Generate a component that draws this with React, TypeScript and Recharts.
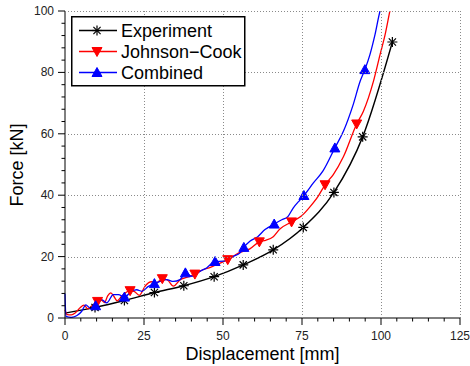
import { ComposedChart, Line, Scatter, XAxis, YAxis, Legend } from 'recharts'

// [displacement mm, force kN]
const experimentCurve = [
  [0, 1.6], [9.5, 3.45], [18.8, 5.7], [28.3, 8.3], [37.6, 10.5], [47.2, 13.45],
  [56.4, 17.3], [65.9, 22.2], [75.4, 29.5], [85.1, 40.9], [94.2, 59.0], [103.6, 89.9],
]
const experimentMarks = [
  [9.5, 3.45], [18.8, 5.7], [28.3, 8.3], [37.6, 10.5], [47.2, 13.45], [56.4, 17.3],
  [65.9, 22.2], [75.4, 29.5], [85.1, 40.9], [94.2, 59.0], [103.6, 89.9],
]

const johnsonCookCurve = [
  [0, 2.7], [0.7, 1.1], [2, 1.0], [3.2, 1.6], [4.7, 3.3], [6, 4.2], [7.2, 3.0], [8.5, 4.0],
  [10.3, 5.4], [11.5, 5.8], [12.5, 5.0], [13.5, 7.2], [14.5, 8.2], [15.5, 7.0], [16.5, 5.6],
  [18, 7.2], [20.6, 8.9], [22, 8.6], [23.5, 7.4], [25.5, 10.6], [27.3, 11.8], [29, 11.5],
  [30.8, 12.8], [32.5, 12.3], [34.3, 10.4], [36.4, 12.4], [38.5, 13.2], [41.1, 14.3],
  [43.8, 15.8], [46, 16.5], [48, 17.4], [51.5, 19.0], [55, 21.2], [58.5, 22.5], [61.5, 24.8],
  [63.5, 25.3], [65.9, 26.5], [68, 29.0], [71.7, 31.3], [74.9, 33.3], [77.5, 36.2],
  [80.2, 39.8], [82.3, 43.4], [84.9, 46.7], [88.1, 52.5], [92.3, 63.2], [94.4, 67.3],
  [97.6, 77.1], [99.7, 85.8], [101.3, 92.3], [102.8, 100], [103.2, 102],
]
const johnsonCookMarks = [
  [10.3, 5.4], [20.6, 8.9], [30.8, 12.8], [41.1, 14.3], [51.5, 19.0], [61.5, 24.8],
  [71.7, 31.3], [82.3, 43.4], [92.3, 63.2],
]

const combinedCurve = [
  [0, 8], [0.3, 0.5], [2, 0.2], [3.8, 0.8], [5.3, 2.2], [6.6, 4.3], [7.9, 3.3], [9.7, 4.0],
  [11.6, 6.0], [13.2, 4.9], [15.3, 7.6], [16.9, 7.6], [18.8, 6.8], [21.1, 8.7], [22.7, 9.2],
  [24.3, 8.7], [26.4, 10.3], [28.3, 11.2], [30.1, 11.9], [32.2, 12.5], [34.3, 11.9],
  [36.4, 12.5], [38.1, 14.7], [40.1, 13.6], [42.7, 15.2], [44.8, 16.3], [47.5, 18.4],
  [50.1, 18.5], [53.3, 20.1], [55.4, 21.2], [56.6, 23.0], [58.5, 25.0], [61, 26.5],
  [63.3, 28.8], [66.2, 30.6], [68.6, 32.0], [70.5, 33.0], [72.2, 35.8], [74.4, 38.5],
  [75.6, 39.9], [78.6, 44.0], [81.7, 48.0], [85.4, 55.4], [88.1, 60.8], [91.2, 69.5],
  [93.4, 77.1], [94.9, 80.9], [96.5, 85.8], [98.1, 92.3], [99.7, 100], [100, 101],
]
const combinedMarks = [
  [9.7, 4.0], [18.8, 6.8], [28.3, 11.2], [38.1, 14.7], [47.5, 18.4], [56.6, 23.0],
  [66.2, 30.6], [75.6, 39.9], [85.4, 55.4], [94.9, 80.9],
]

const xTicks = [0, 5, 10, 15, 20, 25, 30, 35, 40, 45, 50, 55, 60, 65, 70, 75, 80, 85, 90, 95, 100, 105, 110, 115, 120, 125]
const xMajor = [0, 25, 50, 75, 100, 125]
const yTicks = [0, 4, 8, 12, 16, 20, 24, 28, 32, 36, 40, 44, 48, 52, 56, 60, 64, 68, 72, 76, 80, 84, 88, 92, 96, 100]
const yMajor = [0, 20, 40, 60, 80, 100]

const FONT = '"Liberation Sans", Arial, sans-serif'
const W = 470
const H = 366
const M = { top: 11, right: 10, bottom: 18, left: 0 }
const X_AXIS_H = 30
const Y_AXIS_W = 65
const PLOT_W = W - M.left - M.right - Y_AXIS_W
const PLOT_H = H - M.top - M.bottom - X_AXIS_H
const GRID = '#8a8a8a'

const pts = (a: number[][]) => a.map(([x, y]) => ({ x, y }))

function XTick(props: any) {
  const { x, y, payload } = props
  const major = xMajor.includes(payload.value)
  return (
    <g>
      {major && payload.value !== 0 && (
        <line
          x1={Math.round(x) + 0.5}
          y1={y}
          x2={Math.round(x) + 0.5}
          y2={y - PLOT_H}
          stroke={GRID}
          strokeWidth={1}
          strokeDasharray="1 2"
          shapeRendering="crispEdges"
        />
      )}
      <line x1={x} y1={y} x2={x} y2={y + (major ? 7 : 3.5)} stroke="#000" strokeWidth={1} />
      {major && (
        <text x={x} y={y + 21.5} textAnchor="middle" fontSize={12} fontFamily={FONT} fill="#222">
          {payload.value}
        </text>
      )}
    </g>
  )
}

function YTick(props: any) {
  const { x, y, payload } = props
  const major = yMajor.includes(payload.value)
  return (
    <g>
      {major && payload.value !== 0 && (
        <line
          x1={x}
          y1={Math.round(y) + 0.5}
          x2={x + PLOT_W}
          y2={Math.round(y) + 0.5}
          stroke={GRID}
          strokeWidth={1}
          strokeDasharray="1 2"
          shapeRendering="crispEdges"
        />
      )}
      <line x1={x - (major ? 7 : 3.5)} y1={y} x2={x} y2={y} stroke="#000" strokeWidth={1} />
      {major && (
        <text x={x - 11} y={y + 4} textAnchor="end" fontSize={12} fontFamily={FONT} fill="#222">
          {payload.value}
        </text>
      )}
    </g>
  )
}

function Asterisk({ cx, cy, r = 5 }: any) {
  const d = r * 0.72
  return (
    <g stroke="#000" strokeWidth={1.2}>
      <line x1={cx - r} y1={cy} x2={cx + r} y2={cy} />
      <line x1={cx} y1={cy - r} x2={cx} y2={cy + r} />
      <line x1={cx - d} y1={cy - d} x2={cx + d} y2={cy + d} />
      <line x1={cx - d} y1={cy + d} x2={cx + d} y2={cy - d} />
    </g>
  )
}

function TriDown({ cx, cy }: any) {
  return <path d={`M${cx - 5},${cy - 4} L${cx + 5},${cy - 4} L${cx},${cy + 5} Z`} fill="#f00" stroke="#f00" />
}

function TriUp({ cx, cy }: any) {
  return <path d={`M${cx - 5},${cy + 4} L${cx + 5},${cy + 4} L${cx},${cy - 5} Z`} fill="#00f" stroke="#00f" />
}

const legendRows = [
  { name: 'Experiment', color: '#000', Mark: Asterisk },
  { name: 'Johnson\u2212Cook', color: '#f00', Mark: TriDown },
  { name: 'Combined', color: '#00f', Mark: TriUp },
]

function LegendBox() {
  return (
    <svg width={175} height={71} style={{ display: 'block' }}>
      <rect x={0.75} y={0.75} width={173} height={69} fill="#fff" stroke="#000" strokeWidth={1.5} />
      {legendRows.map((r, i) => {
        const cy = 14.5 + i * 21
        return (
          <g key={r.name}>
            <line x1={8} y1={cy} x2={46} y2={cy} stroke={r.color} strokeWidth={1.3} />
            <r.Mark cx={26} cy={cy} />
            <text x={50} y={cy + 6.5} fontSize={18} fontFamily={FONT} fill="#000">
              {r.name}
            </text>
          </g>
        )
      })}
    </svg>
  )
}

export default function App() {
  return (
    <div style={{ position: 'absolute', left: 0, top: 0 }}>
      <ComposedChart width={W} height={H} margin={M}>
        <XAxis
          type="number"
          dataKey="x"
          domain={[0, 125]}
          ticks={xTicks}
          interval={0}
          height={X_AXIS_H}
          tickSize={0}
          tickMargin={0}
          tickLine={false}
          tick={XTick}
          axisLine={{ stroke: '#000', strokeWidth: 1 }}
          label={{
            content: () => (
              <text x={262.5} y={360} textAnchor="middle" fontSize={18} fontFamily={FONT} fill="#000">
                Displacement [mm]
              </text>
            ),
          }}
        />
        <YAxis
          type="number"
          domain={[0, 100]}
          ticks={yTicks}
          interval={0}
          width={Y_AXIS_W}
          tickSize={0}
          tickMargin={0}
          tickLine={false}
          tick={YTick}
          allowDataOverflow
          axisLine={{ stroke: '#000', strokeWidth: 1 }}
          label={{
            content: () => (
              <text x={23} y={165} transform="rotate(-90 23 165)" textAnchor="middle" fontSize={18} fontFamily={FONT} fill="#000">
                Force [kN]
              </text>
            ),
          }}
        />
        <Line data={pts(experimentCurve)} dataKey="y" type="monotone" stroke="#000" strokeWidth={1.4} dot={false} isAnimationActive={false} />
        <Line data={pts(johnsonCookCurve)} dataKey="y" type="monotone" stroke="#f00" strokeWidth={1.3} dot={false} isAnimationActive={false} />
        <Line data={pts(combinedCurve)} dataKey="y" type="monotone" stroke="#00f" strokeWidth={1.3} dot={false} isAnimationActive={false} />
        <Scatter data={pts(experimentMarks)} dataKey="y" shape={(p: any) => <Asterisk cx={p.cx} cy={p.cy} />} isAnimationActive={false} />
        <Scatter data={pts(johnsonCookMarks)} dataKey="y" shape={(p: any) => <TriDown cx={p.cx} cy={p.cy} />} isAnimationActive={false} />
        <Scatter data={pts(combinedMarks)} dataKey="y" shape={(p: any) => <TriUp cx={p.cx} cy={p.cy} />} isAnimationActive={false} />
        <Legend
          layout="vertical"
          align="center"
          verticalAlign="middle"
          content={() => <LegendBox />}
          wrapperStyle={{ left: 71, top: 16, width: 'auto', height: 'auto' }}
        />
      </ComposedChart>
    </div>
  )
}
